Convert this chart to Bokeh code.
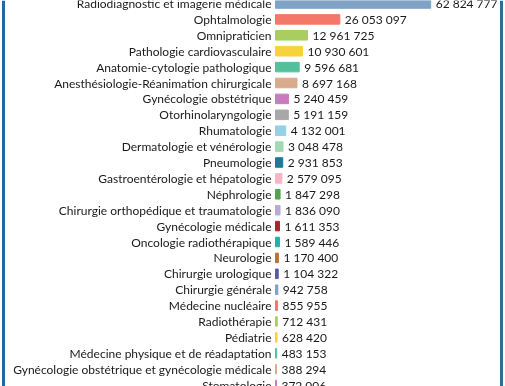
from bokeh.plotting import figure
from bokeh.models import ColumnDataSource, Range1d, Span
from bokeh.core.properties import value
from bokeh.embed import file_html
from bokeh.resources import INLINE

specialties = [
    "Radiodiagnostic et imagerie médicale",
    "Ophtalmologie",
    "Omnipraticien",
    "Pathologie cardiovasculaire",
    "Anatomie-cytologie pathologique",
    "Anesthésiologie-Réanimation chirurgicale",
    "Gynécologie obstétrique",
    "Otorhinolaryngologie",
    "Rhumatologie",
    "Dermatologie et vénérologie",
    "Pneumologie",
    "Gastroentérologie et hépatologie",
    "Néphrologie",
    "Chirurgie orthopédique et traumatologie",
    "Gynécologie médicale",
    "Oncologie radiothérapique",
    "Neurologie",
    "Chirurgie urologique",
    "Chirurgie générale",
    "Médecine nucléaire",
    "Radiothérapie",
    "Pédiatrie",
    "Médecine physique et de réadaptation",
    "Gynécologie obstétrique et gynécologie médicale",
    "Stomatologie",
]
amounts = [
    62824777, 26053097, 12961725, 10930601, 9596681, 8697168, 5240459,
    5191159, 4132001, 3048478, 2931853, 2579095, 1847298, 1836090,
    1611353, 1589446, 1170400, 1104322, 942758, 855955, 712431, 628420,
    483153, 388294, 372006,
]
palette = [
    "#7fa2c6", "#f4786a", "#a9ce5f", "#f8d23c", "#54c09b", "#d9aa8b",
    "#c97cbd", "#a8a8a8", "#92d2e6", "#a3d9b3", "#1f7a99", "#f4b5c5",
    "#4ca64c", "#b7aad6", "#a8262f", "#21b2a7", "#b8743b", "#5e5b9e",
]

W, H = 505, 386
X0 = 275          # pixel where bars start
PX_PER_M = 2.47   # pixels per million
ROW0 = 3.0        # pixel y of first row
ROW = 15.9        # row spacing in pixels

def xdata(px):
    return (px - X0) / PX_PER_M * 1e6

n = len(specialties)
ys = list(range(n))
colors = [palette[i % len(palette)] for i in range(n)]
labels = [f"{v:,}".replace(",", " ") for v in amounts]

src = ColumnDataSource(dict(y=ys, name=specialties, v=amounts, lab=labels,
                            c=colors, zero=[0] * n))

p = figure(width=W, height=H, output_backend="svg", toolbar_location=None,
           x_range=Range1d(xdata(0), xdata(W)),
           y_range=Range1d((H - ROW0) / ROW, -ROW0 / ROW),
           min_border=0, min_border_left=0, min_border_right=0,
           min_border_top=0, min_border_bottom=0)
p.styles = {"position": "fixed", "left": "0px", "top": "0px"}
p.axis.visible = False
p.grid.visible = False
p.outline_line_color = None
p.background_fill_color = "white"
p.border_fill_color = "white"

p.hbar(y="y", left="zero", right="v", height=0.6, color="c", source=src)

p.text(x="zero", y="y", text="name", source=src, text_align="right",
       text_baseline="middle", x_offset=-4, text_font=value("Lato"),
       text_font_size="12px", text_color="#1a1a1a")
p.text(x="v", y="y", text="lab", source=src, text_align="left",
       text_baseline="middle", x_offset=5, text_font=value("Lato"),
       text_font_size="12px", text_color="#1a1a1a")

p.add_layout(Span(location=xdata(3), dimension="height",
                  line_color="#1f6aa5", line_width=3))
p.add_layout(Span(location=xdata(501), dimension="height",
                  line_color="#2d6f8e", line_width=3))

open("out.html", "w").write(file_html(p, INLINE))
